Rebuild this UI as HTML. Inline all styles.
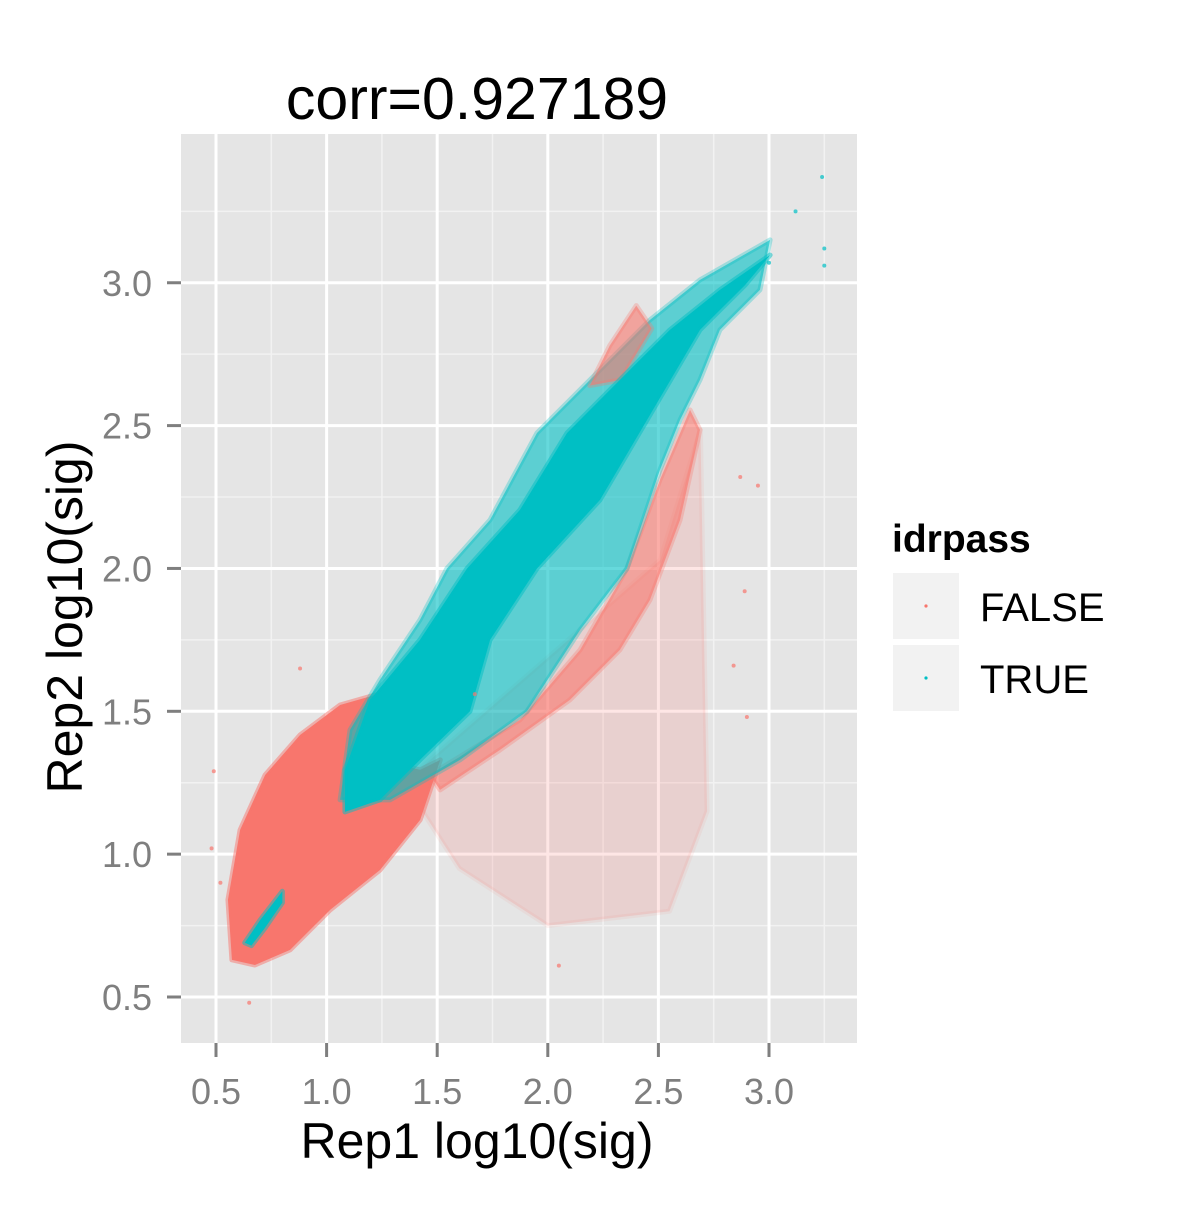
<!DOCTYPE html>
<html><head><meta charset="utf-8"><style>
body{margin:0;background:#fff;}
svg text{font-family:"Liberation Sans",sans-serif;}
</style></head><body>
<svg id="chart" width="1200" height="1200" viewBox="0 0 1200 1200" xmlns="http://www.w3.org/2000/svg">
<rect width="1200" height="1200" fill="#fff"/>
<text x="477" y="119" font-size="59" text-anchor="middle" fill="#000">corr=0.927189</text>
<defs><clipPath id="pc"><rect x="181" y="134" width="676" height="909"/></clipPath></defs>
<rect x="181" y="134" width="676" height="909" fill="#e5e5e5"/>
<g id="grid"></g>
<g id="marks" clip-path="url(#pc)"></g>
<g id="axes"></g>
<text x="477" y="1158" font-size="50" text-anchor="middle">Rep1 log10(sig)</text>
<text transform="translate(82,617) rotate(-90)" font-size="50" text-anchor="middle">Rep2 log10(sig)</text>
<g>
<text x="892" y="552" font-size="39" font-weight="bold">idrpass</text>
<g>
<rect x="893" y="573" width="66" height="66" fill="#f2f2f2"/><circle cx="926" cy="606" r="1.6" fill="#f8766d"/>
<text x="980" y="621" font-size="40">FALSE</text></g>
<g>
<rect x="893" y="645" width="66" height="66" fill="#f2f2f2"/><circle cx="926" cy="678" r="1.6" fill="#00bfc4"/>
<text x="980" y="693" font-size="40">TRUE</text></g>
</g>
</svg>
<script>
const xTicks=[0.5,1.0,1.5,2.0,2.5,3.0];
const yTicks=[0.5,1.0,1.5,2.0,2.5,3.0];
const xTickLabels=["0.5","1.0","1.5","2.0","2.5","3.0"];
const yTickLabels=["0.5","1.0","1.5","2.0","2.5","3.0"];
const xMinor=[0.75,1.25,1.75,2.25,2.75,3.25];
const yMinor=[0.75,1.25,1.75,2.25,2.75,3.25];
// dense FALSE region outline (x,y data)
const falseDenseX=[0.572,0.554,0.609,0.722,0.880,1.061,1.219,1.242,1.423,1.514,1.423,1.242,1.016,0.835,0.676];
const falseDenseY=[0.63,0.84,1.085,1.277,1.417,1.522,1.557,1.33,1.295,1.33,1.12,0.945,0.805,0.665,0.612];
const falseBandX=[1.467,1.874,2.146,2.358,2.507,2.643,2.688,2.598,2.462,2.326,2.10,1.784,1.513];
const falseBandY=[1.277,1.47,1.715,2.0,2.31,2.555,2.485,2.17,1.89,1.715,1.54,1.365,1.225];
const falseSparseX=[1.35,2.509,2.690,2.72,2.55,2.0,1.6];
const falseSparseY=[1.25,2.03,2.484,1.15,0.8,0.75,0.95];
const falseBumpX=[2.19,2.28,2.40,2.47,2.33];
const falseBumpY=[2.64,2.78,2.92,2.84,2.66];
const trueBandX=[1.083,1.196,1.422,1.635,1.874,2.087,2.326,2.552,2.778,3.005,2.892,2.688,2.236,1.951,1.739,1.648,1.422,1.241,1.083];
const trueBandY=[1.295,1.54,1.75,2.0,2.205,2.474,2.66,2.835,2.975,3.097,2.992,2.835,2.24,2.0,1.75,1.5,1.33,1.19,1.148];
const trueFringeX=[1.061,1.106,1.241,1.422,1.544,1.739,1.951,2.236,2.462,2.688,3.005,2.959,2.778,2.688,2.598,2.507,2.358,2.146,1.906,1.603,1.287];
const trueFringeY=[1.19,1.435,1.61,1.82,2.0,2.17,2.474,2.695,2.87,3.01,3.15,2.975,2.835,2.66,2.52,2.345,2.0,1.785,1.5,1.33,1.19];
const trueBlobX=[0.63,0.70,0.77,0.80,0.80,0.72,0.66];
const trueBlobY=[0.69,0.77,0.84,0.87,0.83,0.74,0.68];
const outX=[3.24,3.25,3.25,3.12,3.0,2.95,2.87,2.89,2.84,2.90,0.49,0.48,0.52,1.67,0.65,2.05,0.88];
const outY=[3.37,3.12,3.06,3.25,3.07,2.29,2.32,1.92,1.66,1.48,1.29,1.02,0.90,1.56,0.48,0.61,1.65];
const outC=["t","t","t","t","t","f","f","f","f","f","f","f","f","f","f","f","f"];

const NS="http://www.w3.org/2000/svg";
const X=v=>216+(v-0.5)*221.2, Y=v=>997-(v-0.5)*285.7;
function mk(t,a,p){const e=document.createElementNS(NS,t);for(const k in a)e.setAttribute(k,a[k]);p.appendChild(e);return e;}
const grid=document.getElementById('grid'),marks=document.getElementById('marks'),axes=document.getElementById('axes');
xMinor.forEach(v=>mk('line',{x1:X(v),x2:X(v),y1:134,y2:1043,stroke:'#f2f2f2','stroke-width':1.5},grid));
yMinor.forEach(v=>{if(Y(v)>134)mk('line',{x1:181,x2:857,y1:Y(v),y2:Y(v),stroke:'#f2f2f2','stroke-width':1.5},grid);});
xTicks.forEach(v=>mk('line',{x1:X(v),x2:X(v),y1:134,y2:1043,stroke:'#fff','stroke-width':3},grid));
yTicks.forEach(v=>mk('line',{x1:181,x2:857,y1:Y(v),y2:Y(v),stroke:'#fff','stroke-width':3},grid));
function poly(xs,ys,fill,op,name){const pts=xs.map((x,i)=>X(x)+','+Y(ys[i])).join(' ');
 const e=mk('polygon',{points:pts,fill:fill,'fill-opacity':op,'stroke':fill,'stroke-opacity':op*0.5,'stroke-width':5,'stroke-linejoin':'round'},marks);
 
 }
poly(falseSparseX,falseSparseY,'#f8766d',0.18,'false-sparse-region');
poly(falseBandX,falseBandY,'#f8766d',0.6,'false-band-region');
poly(falseDenseX,falseDenseY,'#f8766d',1,'false-dense-region');
poly(trueFringeX,trueFringeY,'#00bfc4',0.6,'true-fringe-region');
poly(falseBumpX,falseBumpY,'#f8766d',0.6,'false-top-cluster');
poly(trueBandX,trueBandY,'#00bfc4',1,'true-dense-region');
poly(trueBlobX,trueBlobY,'#00bfc4',1,'true-small-cluster');
outX.forEach((x,i)=>{const c=mk('circle',{cx:X(x),cy:Y(outY[i]),r:2,fill:outC[i]=='t'?'#00bfc4':'#f8766d','fill-opacity':0.7},marks);
 
 });
xTicks.forEach((v,i)=>{mk('line',{x1:X(v),x2:X(v),y1:1043,y2:1057,stroke:'#7f7f7f','stroke-width':3},axes);
 const t=mk('text',{x:X(v),y:1104,'font-size':36,'text-anchor':'middle',fill:'#7f7f7f'},axes);t.textContent=xTickLabels[i];
 
 });
yTicks.forEach((v,i)=>{mk('line',{x1:167,x2:181,y1:Y(v),y2:Y(v),stroke:'#7f7f7f','stroke-width':3},axes);
 const t=mk('text',{x:152,y:Y(v)+13,'font-size':36,'text-anchor':'end',fill:'#7f7f7f'},axes);t.textContent=yTickLabels[i];
 
 });
</script>
</body></html>
